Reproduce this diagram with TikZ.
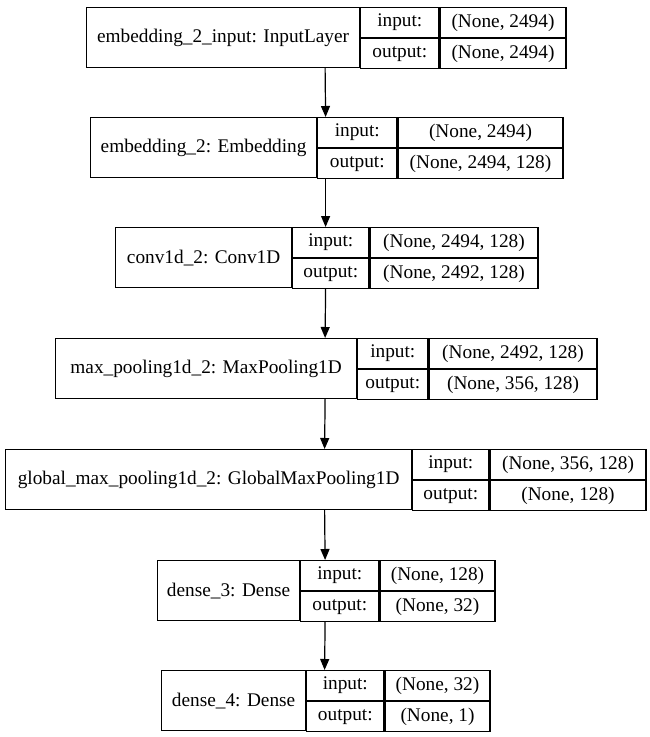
\documentclass[tikz,border=0pt]{standalone}
\usepackage{fontspec}
\setmainfont{Liberation Serif}
\usetikzlibrary{arrows.meta}

% one keras layer record: id, top, x0, x1, x2, x3, name, input, output
\newcommand{\layerbox}[9]{%
  \node[whole, minimum width={#6pt-#3pt}, anchor=north west] (#1) at (#3,#2) {};
  \node[cell, minimum width={#4pt-#3pt}, minimum height=60pt, anchor=north west] (#1-name) at (#3,#2) {#7};
  \node[cell, minimum width={#5pt-#4pt}, anchor=north west] (#1-inl) at (#1-name.north east) {input:};
  \node[cell, minimum width={#5pt-#4pt}, anchor=north west] (#1-outl) at (#1-inl.south west) {output:};
  \node[cell, minimum width={#6pt-#5pt}, anchor=north west] (#1-inv) at (#1-inl.north east) {#8};
  \node[cell, minimum width={#6pt-#5pt}, anchor=north west] (#1-outv) at (#1-inv.south west) {#9};
}

\begin{document}
\begin{tikzpicture}[
    x=1pt, y=-1pt,
    line width=1.2pt,
    cell/.style={draw, rectangle, inner sep=0pt, minimum height=30pt,
      font=\fontsize{19.3}{21}\selectfont},
    whole/.style={rectangle, inner sep=0pt, minimum height=60pt},
    arr/.style={-{Triangle[length=11pt,width=9pt]}}]

  \useasboundingbox (0,0) rectangle (649,737);

  \layerbox{l1}{7}{86}{359}{437}{563}{embedding\_2\_input: InputLayer}{(None, 2494)}{(None, 2494)}
  \layerbox{l2}{117}{90}{316}{395}{560}{embedding\_2: Embedding}{(None, 2494)}{(None, 2494, 128)}
  \layerbox{l3}{227}{115}{291}{367}{535}{conv1d\_2: Conv1D}{(None, 2494, 128)}{(None, 2492, 128)}
  \layerbox{l4}{338}{55}{356}{426}{594}{max\_pooling1d\_2: MaxPooling1D}{(None, 2492, 128)}{(None, 356, 128)}
  \layerbox{l5}{449}{5}{411}{487}{643}{global\_max\_pooling1d\_2: GlobalMaxPooling1D}{(None, 356, 128)}{(None, 128)}
  \layerbox{l6}{560}{157}{299}{377}{492}{dense\_3: Dense}{(None, 128)}{(None, 32)}
  \layerbox{l7}{670}{161}{305}{382}{487}{dense\_4: Dense}{(None, 32)}{(None, 1)}

  \foreach \a/\b in {l1/l2, l2/l3, l3/l4, l4/l5, l5/l6, l6/l7}
    \draw[arr] (\a.south) -- (\b.north);
\end{tikzpicture}
\end{document}
